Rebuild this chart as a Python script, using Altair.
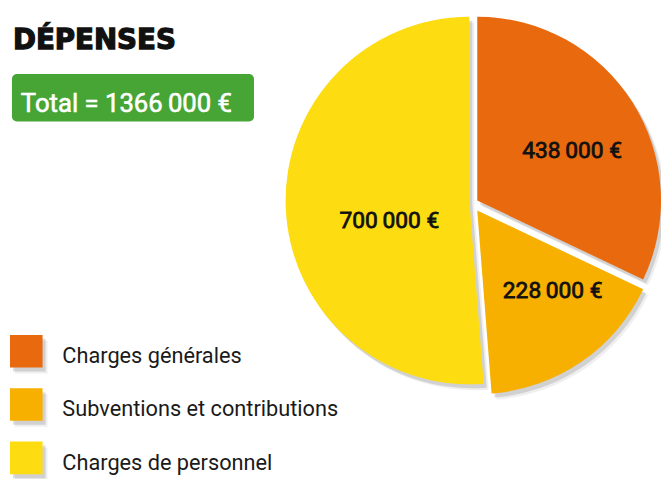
import math
import altair as alt
import pandas as pd

# ---- data -----------------------------------------------------------------
categories = ["Charges générales", "Subventions et contributions", "Charges de personnel"]
values = [438000, 228000, 700000]
value_labels = ["438\u2009000 €", "228\u2009000 €", "700\u2009000 €"]
colors = ["#E9690E", "#F7AF00", "#FDDC12"]
title_text = "DÉPENSES"
total_text = "Total = 1366\u2009000 €"

df = pd.DataFrame({"cat": categories, "value": values, "label": value_labels,
                   "order": list(range(len(categories)))})
total = sum(values)

# ---- layout / style -------------------------------------------------------
W, H = 661, 471
CX, CY, R = 471, 195, 186
FONT = "Roboto"
explode = {"Charges générales": (4, -3),
           "Subventions et contributions": (4, 7),
           "Charges de personnel": (-4, -3)}
label_pos = {"Charges générales": (110, 3, 9),
             "Subventions et contributions": (110, 14, -9),
             "Charges de personnel": (85, 4, 17)}

color_scale = alt.Scale(domain=categories, range=colors)
theta_scale = alt.Scale(domain=[0, total], range=[0, 2 * math.pi], nice=False)

base = (alt.Chart(df)
        .transform_window(cum="sum(value)", sort=[alt.SortField("order")], frame=[None, 0])
        .transform_calculate(start="datum.cum - datum.value",
                             mid="datum.cum - datum.value / 2"))

shadows, slices, texts = [], [], []
for c in categories:
    ox, oy = explode[c]
    part = base.transform_filter(alt.datum.cat == c)
    enc = dict(theta=alt.Theta("start:Q", scale=theta_scale), theta2="cum:Q",
               x=alt.value(CX), y=alt.value(CY))
    shadows.append(part.mark_arc(radius=R, xOffset=ox + 5, yOffset=oy + 6, fill="#7a7a7a",
                                 opacity=0.12).encode(**enc))
    shadows.append(part.mark_arc(radius=R, xOffset=ox + 3, yOffset=oy + 4, fill="#6a6a6a",
                                 opacity=0.22).encode(**enc))
    slices.append(part.mark_arc(radius=R, xOffset=ox, yOffset=oy, opacity=1).encode(
        fill=alt.Fill("cat:N", scale=color_scale, legend=None), **enc))
    rad, dx, dy = label_pos[c]
    texts.append(part.mark_text(radius=rad, xOffset=ox + dx, yOffset=oy + dy, font=FONT,
                                fontSize=23, fontWeight="normal", color="#111111",
                                stroke="#111111", strokeWidth=0.8,
                                align="center", baseline="middle").encode(
        theta=alt.Theta("mid:Q", scale=theta_scale), text="label:N",
        x=alt.value(CX), y=alt.value(CY)))

one = alt.Chart(pd.DataFrame({"title": [title_text], "total": [total_text]}))
title = one.mark_text(font="DejaVu Sans", fontSize=28, fontWeight="bold", color="#111111",
                      stroke="#111111", strokeWidth=1.3,
                      align="left", baseline="alphabetic").encode(
    x=alt.value(5), y=alt.value(39), text="title:N")
box = one.mark_rect(cornerRadius=5, color="#47A535").encode(
    x=alt.value(4), x2=alt.value(249), y=alt.value(64), y2=alt.value(112))
total_t = one.mark_text(font=FONT, fontSize=26, fontWeight="normal", color="white",
                        stroke="white", strokeWidth=0.6,
                        align="left", baseline="alphabetic").encode(
    x=alt.value(13), y=alt.value(102), text="total:N")

ly = alt.Y("cat:N", scale=alt.Scale(type="point", domain=categories,
                                    range=[344.5, 452.5], padding=0), axis=None)
leg = alt.Chart(df)
leg_sh1 = leg.mark_square(size=1089, fill="#7a7a7a", opacity=0.12, xOffset=5, yOffset=6).encode(
    x=alt.value(18.5), y=ly)
leg_sh2 = leg.mark_square(size=1089, fill="#6a6a6a", opacity=0.22, xOffset=3, yOffset=4).encode(
    x=alt.value(18.5), y=ly)
leg_sq = leg.mark_square(size=1089, opacity=1).encode(
    x=alt.value(18.5), y=ly, fill=alt.Fill("cat:N", scale=color_scale, legend=None))
leg_tx = leg.mark_text(font=FONT, fontSize=22, color="#1a1a1a", align="left",
                       baseline="middle", dy=5).encode(x=alt.value(55), y=ly, text="cat:N")

chart = alt.layer(box, title, total_t, leg_sh1, leg_sh2, leg_sq, leg_tx,
                  *shadows, *slices, *texts).properties(
    width=W, height=H, padding=0,
    autosize=alt.AutoSizeParams(type="fit", contains="padding")
).configure_view(stroke=None)

chart.save("out.html", embed_options={"renderer": "svg", "actions": False})
